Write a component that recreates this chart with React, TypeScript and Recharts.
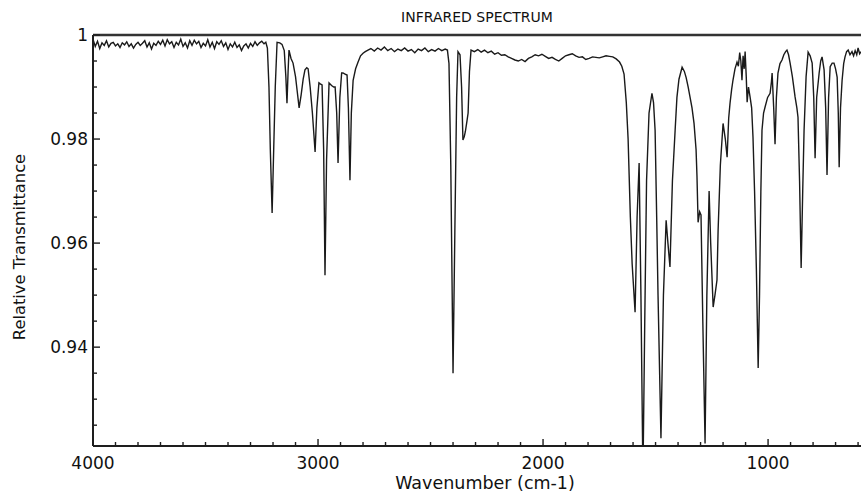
import { Line, LineChart, ReferenceLine, XAxis, YAxis } from "recharts";

type Pt = [number, number];

// wavenumber (cm-1), relative transmittance
const noiseHigh: Pt[] = [
  [4000, 0.9992], [3990, 0.9978], [3980, 0.9988], [3970, 0.9974], [3960, 0.9985], [3950, 0.998],
  [3940, 0.9989], [3930, 0.9977], [3920, 0.9984], [3910, 0.9986], [3900, 0.9979], [3890, 0.9983],
  [3880, 0.9976], [3870, 0.9985], [3860, 0.9981], [3850, 0.9987], [3840, 0.9978], [3830, 0.9983],
  [3820, 0.9975], [3810, 0.9982], [3800, 0.9986], [3790, 0.998], [3780, 0.9984], [3770, 0.9989],
  [3760, 0.9977], [3750, 0.9985], [3740, 0.9973], [3730, 0.9984], [3720, 0.998], [3710, 0.9988],
  [3700, 0.9982], [3690, 0.999], [3680, 0.9979], [3670, 0.9991], [3660, 0.9983], [3650, 0.9987],
  [3640, 0.9976], [3630, 0.9986], [3620, 0.9981], [3610, 0.9992], [3600, 0.9978], [3590, 0.9985],
  [3580, 0.9975], [3570, 0.9989], [3560, 0.998], [3550, 0.999], [3540, 0.9983], [3530, 0.9988],
  [3520, 0.9976], [3510, 0.9984], [3500, 0.9979], [3490, 0.9991], [3480, 0.9977], [3470, 0.9986],
  [3460, 0.9974], [3450, 0.9987], [3440, 0.9982], [3430, 0.9989], [3420, 0.9978], [3410, 0.9985],
  [3400, 0.9972], [3390, 0.9983], [3380, 0.9977], [3370, 0.9986], [3360, 0.9976], [3350, 0.9981],
  [3340, 0.997], [3330, 0.9979], [3320, 0.9983], [3310, 0.9975], [3300, 0.9984], [3290, 0.9978],
  [3280, 0.9987], [3270, 0.998], [3260, 0.9985], [3250, 0.9988], [3240, 0.9983], [3232, 0.9986],
];

const chBand: Pt[] = [
  [3225, 0.9975], [3218, 0.99], [3212, 0.978], [3204, 0.9658], [3197, 0.978], [3190, 0.99],
  [3182, 0.9986], [3170, 0.9985], [3160, 0.9982], [3150, 0.997], [3143, 0.992], [3138, 0.9869],
  [3133, 0.993], [3129, 0.9971], [3120, 0.9955], [3111, 0.9946], [3100, 0.992], [3092, 0.989],
  [3084, 0.986], [3075, 0.9885], [3066, 0.9915], [3058, 0.9933], [3050, 0.9937], [3044, 0.9935],
  [3035, 0.99], [3025, 0.985], [3013, 0.9775], [3005, 0.986], [2996, 0.9908], [2990, 0.9906],
  [2982, 0.9904], [2975, 0.978], [2969, 0.9538], [2962, 0.976], [2951, 0.9908], [2940, 0.9903],
  [2930, 0.99], [2924, 0.99], [2917, 0.985], [2911, 0.9754], [2903, 0.988], [2895, 0.9927],
  [2889, 0.9927], [2880, 0.9925], [2871, 0.9923], [2865, 0.986], [2858, 0.9721], [2852, 0.985],
  [2844, 0.9913], [2833, 0.9935], [2822, 0.9948], [2811, 0.996], [2800, 0.9965], [2790, 0.9968],
  [2778, 0.9971],
];

const midBase: Pt[] = [
  [2765, 0.9974], [2750, 0.9969], [2735, 0.9975], [2720, 0.9971], [2705, 0.9977], [2690, 0.997],
  [2675, 0.9974], [2660, 0.9968], [2645, 0.9973], [2630, 0.997], [2615, 0.9975], [2600, 0.9969],
  [2585, 0.9972], [2570, 0.9966], [2555, 0.9973], [2540, 0.997], [2525, 0.9975], [2510, 0.9968],
  [2495, 0.9972], [2480, 0.9969], [2465, 0.9974], [2450, 0.997], [2435, 0.9973], [2425, 0.9971],
];

const co2Band: Pt[] = [
  [2418, 0.9945], [2410, 0.975], [2400, 0.935], [2392, 0.962], [2384, 0.988], [2378, 0.9968],
  [2369, 0.9962], [2362, 0.99], [2356, 0.9798], [2350, 0.9805], [2345, 0.9815], [2338, 0.9835],
  [2333, 0.985], [2327, 0.993], [2320, 0.9971],
];

const plateau: Pt[] = [
  [2305, 0.9968], [2290, 0.9972], [2275, 0.9967], [2260, 0.9971], [2245, 0.9966], [2230, 0.9969],
  [2215, 0.9963], [2200, 0.9966], [2185, 0.9961], [2170, 0.9962], [2155, 0.9958], [2140, 0.9955],
  [2125, 0.9952], [2110, 0.995], [2095, 0.9953], [2080, 0.9949], [2065, 0.9955], [2050, 0.9958],
  [2035, 0.9962], [2020, 0.996], [2005, 0.9963], [1990, 0.9959], [1975, 0.9955], [1960, 0.9957],
  [1945, 0.9953], [1930, 0.995], [1915, 0.9955], [1900, 0.996], [1885, 0.9962], [1870, 0.9964],
  [1855, 0.996], [1840, 0.9957], [1825, 0.9958], [1810, 0.9953], [1795, 0.9955], [1780, 0.9958],
  [1765, 0.9957], [1750, 0.9956], [1735, 0.9958], [1720, 0.996], [1705, 0.9959], [1690, 0.9958],
  [1675, 0.9954], [1660, 0.9948], [1650, 0.994], [1640, 0.9925],
];

const fingerprint: Pt[] = [
  [1630, 0.987], [1622, 0.98], [1612, 0.965], [1604, 0.956], [1591, 0.9467], [1582, 0.965],
  [1573, 0.9754], [1565, 0.95], [1556, 0.915], [1548, 0.945], [1540, 0.972], [1529, 0.985],
  [1516, 0.9888], [1509, 0.987], [1502, 0.9817], [1495, 0.965], [1489, 0.95], [1476, 0.9225],
  [1465, 0.95], [1453, 0.9644], [1445, 0.96], [1436, 0.9554], [1425, 0.972], [1413, 0.9817],
  [1405, 0.988], [1396, 0.9915], [1382, 0.9938], [1372, 0.993], [1364, 0.9918], [1355, 0.99],
  [1347, 0.9881], [1338, 0.986], [1329, 0.983], [1320, 0.978], [1316, 0.973], [1311, 0.964],
  [1304, 0.966], [1298, 0.9654], [1290, 0.945], [1280, 0.9215], [1272, 0.95], [1262, 0.97],
  [1255, 0.96], [1244, 0.9477], [1236, 0.95], [1227, 0.9529], [1222, 0.9625], [1212, 0.975],
  [1200, 0.983], [1190, 0.98], [1182, 0.9765], [1175, 0.984], [1169, 0.9869], [1162, 0.9895],
  [1156, 0.9913], [1147, 0.9935], [1138, 0.9948], [1132, 0.994], [1126, 0.9966], [1121, 0.995],
  [1116, 0.9913], [1111, 0.996], [1106, 0.9935], [1102, 0.9968], [1097, 0.992], [1093, 0.9871],
  [1087, 0.99], [1080, 0.9881], [1073, 0.986], [1067, 0.9804], [1060, 0.97], [1052, 0.955],
  [1044, 0.936], [1038, 0.95], [1032, 0.97], [1027, 0.9817], [1020, 0.985], [1013, 0.9862],
  [1002, 0.988], [991, 0.9888], [985, 0.991], [982, 0.9927], [975, 0.986], [969, 0.979],
  [963, 0.988], [956, 0.9927], [947, 0.9945], [938, 0.9952], [930, 0.9962], [922, 0.9968],
  [916, 0.9971], [909, 0.9962], [902, 0.9946], [892, 0.992], [880, 0.9881], [872, 0.986],
  [867, 0.9842], [860, 0.972], [853, 0.9552], [846, 0.97], [840, 0.9817], [831, 0.992],
  [822, 0.9967], [813, 0.996], [804, 0.9946], [797, 0.988], [791, 0.9763], [784, 0.988],
  [773, 0.9927], [766, 0.995], [760, 0.9958], [751, 0.9933], [744, 0.986], [738, 0.9731],
  [731, 0.988], [724, 0.9939], [715, 0.9946], [707, 0.9946], [700, 0.9935], [693, 0.9919],
  [688, 0.985], [684, 0.9746], [678, 0.986], [671, 0.9913], [664, 0.9945], [658, 0.9958],
  [651, 0.9968], [644, 0.9971], [636, 0.9962], [627, 0.9968], [620, 0.996], [613, 0.997],
  [606, 0.9962], [600, 0.9975], [593, 0.9964], [587, 0.9968],
];

const xMajor = [1000, 2000, 3000, 4000];
const yMajor = [0.94, 0.96, 0.98, 1];
const xTicks = Array.from({ length: 35 }, (_, i) => 600 + i * 100);
const yTicks = Array.from({ length: 16 }, (_, i) => Math.round((0.925 + i * 0.005) * 1000) / 1000);

const spectrum = [...noiseHigh, ...chBand, ...midBase, ...co2Band, ...plateau, ...fingerprint].map(
  ([wn, t]) => ({ wn, t })
);

const FONT = "'DejaVu Sans', sans-serif";
const INK = "#1e1e1e";

function XTick(props: any) {
  const { x, y, payload } = props;
  const major = xMajor.includes(payload.value);
  return (
    <g>
      <line x1={x} x2={x} y1={y} y2={y - (major ? 7 : 4)} stroke={INK} strokeWidth={1.4} />
      {major && (
        <text x={x} y={y + 23} textAnchor="middle" fontSize={17} fill="#111" fontFamily={FONT}>
          {payload.value}
        </text>
      )}
    </g>
  );
}

function YTick(props: any) {
  const { x, y, payload } = props;
  const major = yMajor.some((m) => Math.abs(m - payload.value) < 1e-6);
  return (
    <g>
      <line x1={x} x2={x + (major ? 7 : 4)} y1={y} y2={y} stroke={INK} strokeWidth={1.4} />
      {major && (
        <text x={x - 5} y={y + 6} textAnchor="end" fontSize={17} fill="#111" fontFamily={FONT}>
          {payload.value === 1 ? "1" : payload.value}
        </text>
      )}
    </g>
  );
}

export default function App() {
  return (
    <div style={{ position: "absolute", left: 0, top: 0, width: 861, height: 492, background: "#fff", overflow: "hidden" }}>
      <div
        style={{
          position: "absolute", left: 0, width: 954, top: 9, textAlign: "center",
          fontFamily: FONT, fontSize: 14, color: "#111",
        }}
      >
        INFRARED SPECTRUM
      </div>
      <div
        style={{
          position: "absolute", left: 485, top: 484, transform: "translate(-50%, -50%)",
          fontFamily: FONT, fontSize: 17.5, lineHeight: 1, color: "#111", whiteSpace: "nowrap",
        }}
      >
        Wavenumber (cm-1)
      </div>
      <div
        style={{
          position: "absolute", left: 20, top: 247, transform: "translate(-50%, -50%) rotate(-90deg)",
          fontFamily: FONT, fontSize: 16.3, lineHeight: 1, color: "#111", whiteSpace: "nowrap",
        }}
      >
        Relative Transmittance
      </div>
      <LineChart width={861} height={492} data={spectrum} margin={{ top: 35, right: 0, bottom: 0, left: 0 }}>
        <XAxis
          dataKey="wn"
          type="number"
          domain={[587, 4000]}
          reversed
          allowDataOverflow
          ticks={xTicks}
          interval={0}
          height={46}
          tickSize={0}
          tickMargin={0}
          tickLine={false}
          tick={<XTick />}
          axisLine={{ stroke: INK, strokeWidth: 2 }}
        />
        <YAxis
          type="number"
          domain={[0.921, 1]}
          allowDataOverflow
          ticks={yTicks}
          interval={0}
          width={93}
          tickSize={0}
          tickMargin={0}
          tickLine={false}
          tick={<YTick />}
          axisLine={{ stroke: INK, strokeWidth: 2 }}
        />
        <ReferenceLine y={1} stroke="#333" strokeWidth={2.5} />
        <Line
          dataKey="t"
          type="linear"
          stroke="#1a1a1a"
          strokeWidth={1.4}
          dot={false}
          isAnimationActive={false}
        />
      </LineChart>
    </div>
  );
}
